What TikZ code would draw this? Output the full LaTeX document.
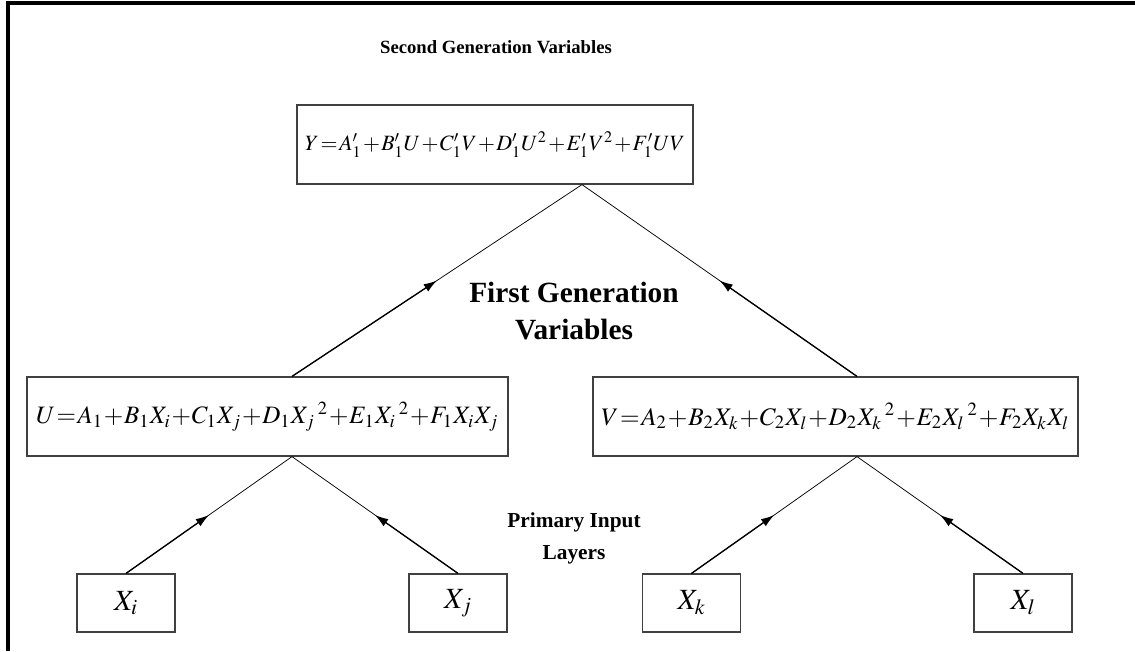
\documentclass[tikz,border=0pt]{standalone}
\usepackage{mathptmx}
\usepackage{graphicx}
\usepackage{fontspec}
\setmainfont{Liberation Serif}
\usetikzlibrary{arrows.meta}

\begin{document}
\begin{tikzpicture}[x=0.75pt,y=-0.75pt,
  eqbox/.style={draw=black!75, line width=0.9pt, rectangle, inner sep=0pt, minimum height=59.25pt},
  inbox/.style={draw=black!75, line width=0.9pt, rectangle, inner sep=0pt, minimum width=73.5pt, minimum height=43.5pt, font=\fontsize{22}{24}\selectfont},
  caption/.style={align=center, font=\bfseries\fontsize{22}{28}\selectfont},
  link/.style={line width=0.55pt},
  feed/.style={line width=1pt, -{Latex[length=10pt,width=6.5pt]}}]
\useasboundingbox (0,0) rectangle (1135,651);
\draw[line width=2.3pt] (8,651) -- (8,3) -- (1135,3);

\node[caption, font=\bfseries\fontsize{14}{16}\selectfont] (title) at (496,47) {Second Generation Variables};
\node[eqbox, minimum width=297pt] (y) at (495,144.5)
  {\resizebox{285pt}{!}{$\medmuskip=1mu\thickmuskip=1.5mu
   Y=A_1'+B_1'U+C_1'V+D_1'U^2+E_1'V^2+F_1'UV$}};

\node[caption] (firstgen) at (574,311) {First Generation\\Variables};

\node[eqbox, minimum width=360.75pt] (u) at (267.5,416.5)
  {\resizebox{347pt}{!}{$\medmuskip=0.5mu\thickmuskip=1mu
   U=A_1+B_1X_i+C_1X_j+D_1X_j\mkern2mu{}^2+E_1X_i\mkern2mu{}^2+F_1X_iX_j$}};
\node[eqbox, minimum width=363.75pt] (v) at (835.5,416.5)
  {\resizebox{351pt}{!}{$\medmuskip=0.5mu\thickmuskip=1mu
   V=A_2+B_2X_k+C_2X_l+D_2X_k\mkern2mu{}^2+E_2X_l\mkern2mu{}^2+F_2X_kX_l$}};

\node[caption, font=\bfseries\fontsize{16}{24}\selectfont] (primary) at (574,538) {Primary Input\\Layers};

\node[inbox] (xi) at (126,603) {$X_i$};
\node[inbox] (xj) at (458,603) {$X_j$};
\node[inbox] (xk) at (691.5,603) {$X_k$};
\node[inbox] (xl) at (1023,603) {$X_l$};

% joining points on the boxes
\path (y.south) ++(87,0) coordinate (yjoin);
\path (u.north) ++(24.5,0) coordinate (uup);
\path (u.south) ++(24.5,0) coordinate (udown);
\path (v.north) ++(21.5,0) coordinate (vup);
\path (v.south) ++(21.5,0) coordinate (vdown);

% thin line all the way, arrow on the lower half
\foreach \from/\to in {uup/yjoin, vup/yjoin, xi.north/udown, xj.north/udown, xk.north/vdown, xl.north/vdown} {
  \draw[link] (\from) -- (\to);
  \path (\from) -- (\to) coordinate[pos=0.5] (half);
  \draw[feed] (\from) -- (half);
}
\end{tikzpicture}
\end{document}
